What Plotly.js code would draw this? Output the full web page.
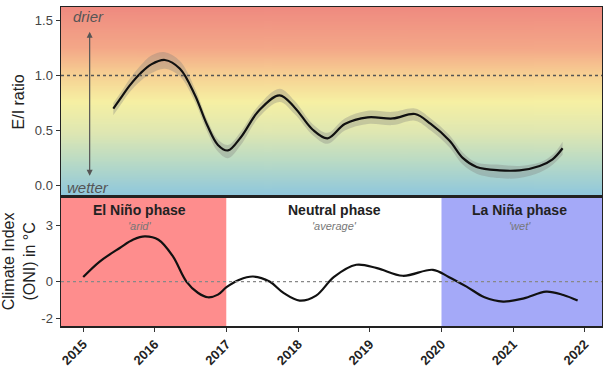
<!DOCTYPE html>
<html>
<head>
<meta charset="utf-8">
<script src="https://cdn.plot.ly/plotly-3.0.1.min.js"></script>
<style>html,body{margin:0;padding:0;background:#fff;}#chart{width:603px;height:367px;}</style>
</head>
<body>
<div id="chart"></div>
<script>
// E/I ratio (top panel)
const eiYears = [2015.42, 2015.55, 2015.65, 2015.8, 2015.95, 2016.14, 2016.35, 2016.56, 2016.73, 2016.88, 2017.02, 2017.2, 2017.45, 2017.74, 2017.95, 2018.2, 2018.41, 2018.65, 2018.97, 2019.32, 2019.63, 2019.85, 2020.11, 2020.3, 2020.49, 2020.81, 2021.09, 2021.37, 2021.55, 2021.69];
const eiValues = [0.70, 0.82, 0.91, 1.02, 1.10, 1.14, 1.06, 0.82, 0.55, 0.37, 0.32, 0.44, 0.68, 0.82, 0.71, 0.51, 0.43, 0.56, 0.62, 0.61, 0.65, 0.56, 0.41, 0.25, 0.17, 0.14, 0.14, 0.18, 0.24, 0.34];
const eiUpper = [0.75, 0.87, 0.97, 1.09, 1.18, 1.21, 1.13, 0.88, 0.60, 0.42, 0.37, 0.49, 0.73, 0.88, 0.77, 0.56, 0.48, 0.61, 0.68, 0.67, 0.70, 0.61, 0.46, 0.30, 0.21, 0.19, 0.18, 0.21, 0.28, 0.40];
const eiLower = [0.64, 0.76, 0.85, 0.95, 1.02, 1.06, 0.99, 0.76, 0.49, 0.31, 0.25, 0.37, 0.62, 0.76, 0.65, 0.46, 0.38, 0.50, 0.56, 0.55, 0.59, 0.50, 0.35, 0.19, 0.11, 0.07, 0.07, 0.12, 0.19, 0.28];

// ONI climate index (bottom panel)
const oniYears = [2015.0, 2015.23, 2015.51, 2015.7, 2015.86, 2016.05, 2016.25, 2016.44, 2016.6, 2016.74, 2016.88, 2017.0, 2017.18, 2017.37, 2017.6, 2017.8, 2018.02, 2018.25, 2018.5, 2018.81, 2019.1, 2019.46, 2019.88, 2020.1, 2020.35, 2020.6, 2020.86, 2021.15, 2021.46, 2021.7, 2021.9];
const oniValues = [0.24, 1.07, 1.80, 2.25, 2.42, 2.24, 1.36, 0.0, -0.6, -0.84, -0.7, -0.3, 0.1, 0.27, 0.0, -0.62, -1.02, -0.75, 0.25, 0.90, 0.72, 0.31, 0.63, 0.25, -0.27, -0.84, -1.07, -0.9, -0.54, -0.72, -1.02];

// Phases
const phaseNames = ["El Niño phase", "Neutral phase", "La Niña phase"];
const phaseSub = ["'arid'", "'average'", "'wet'"];
const phaseStart = [2014.5, 2017.0, 2020.0];
const phaseEnd = [2017.0, 2020.0, 2023.0];
const phaseColors = ["#fe8d8d", "#ffffff", "#a4a9f8"];
const phaseLabelX = [2015.79, 2018.51, 2021.09];

const xTicks = [2015, 2016, 2017, 2018, 2019, 2020, 2021, 2022];
const xRange = [2014.69, 2022.24];

// Gradient background image for top panel
function gradientURI() {
  const c = document.createElement('canvas');
  c.width = 4; c.height = 400;
  const g = c.getContext('2d');
  const gr = g.createLinearGradient(0, 0, 0, 400);
  gr.addColorStop(0.0, '#ef8a80');
  gr.addColorStop(0.22, '#f4a888');
  gr.addColorStop(0.36, '#f7d193');
  gr.addColorStop(0.50, '#f6f0a3');
  gr.addColorStop(0.66, '#dfe7b2');
  gr.addColorStop(0.82, '#b8dac6');
  gr.addColorStop(1.0, '#8dc6de');
  g.fillStyle = gr;
  g.fillRect(0, 0, 4, 400);
  return c.toDataURL('image/png');
}

const font = "Arial, 'Liberation Sans', sans-serif";

const traces = [
  {x: eiYears, y: eiUpper, type: 'scatter', mode: 'lines', line: {width: 0, shape: 'spline'}, xaxis: 'x', yaxis: 'y', hoverinfo: 'skip', showlegend: false},
  {x: eiYears, y: eiLower, type: 'scatter', mode: 'lines', line: {width: 0, shape: 'spline'}, fill: 'tonexty', fillcolor: 'rgba(125,125,125,0.32)', xaxis: 'x', yaxis: 'y', hoverinfo: 'skip', showlegend: false},
  {x: eiYears, y: eiValues, type: 'scatter', mode: 'lines', line: {color: '#111', width: 2.2, shape: 'spline'}, xaxis: 'x', yaxis: 'y', showlegend: false},
  {x: oniYears, y: oniValues, type: 'scatter', mode: 'lines', line: {color: '#111', width: 2.2, shape: 'spline'}, xaxis: 'x2', yaxis: 'y2', showlegend: false}
];

const shapes = [];
for (let i = 0; i < phaseNames.length; i++) {
  shapes.push({type: 'rect', xref: 'x2', yref: 'y2 domain', x0: phaseStart[i], x1: phaseEnd[i], y0: 0, y1: 1, fillcolor: phaseColors[i], line: {width: 0}, layer: 'below'});
}
shapes.push({type: 'line', xref: 'x domain', yref: 'y', x0: 0, x1: 1, y0: 1, y1: 1, line: {color: '#555', width: 1.5, dash: 'dot'}});
shapes.push({type: 'line', xref: 'x2 domain', yref: 'y2', x0: 0, x1: 1, y0: 0, y1: 0, line: {color: '#888', width: 1.2, dash: 'dot'}});

const annotations = [
  {xref: 'x', yref: 'y', axref: 'x', ayref: 'y', x: 2015.09, y: 0.09, ax: 2015.09, ay: 1.41, text: '', showarrow: true, arrowhead: 2, startarrowhead: 2, arrowside: 'end+start', arrowsize: 1, arrowwidth: 1.2, arrowcolor: '#555'},
  {xref: 'x', yref: 'y', x: 2015.07, y: 1.53, text: '<i>drier</i>', showarrow: false, font: {family: font, size: 15, color: '#555'}},
  {xref: 'x', yref: 'y', x: 2015.07, y: -0.02, text: '<i>wetter</i>', showarrow: false, font: {family: font, size: 15, color: '#555'}}
];
for (let i = 0; i < phaseNames.length; i++) {
  annotations.push({xref: 'x2', yref: 'y2', x: phaseLabelX[i], y: 3.85, text: '<b>' + phaseNames[i] + '</b>', showarrow: false, font: {family: font, size: 14, color: '#222'}});
  annotations.push({xref: 'x2', yref: 'y2', x: phaseLabelX[i], y: 2.95, text: '<i>' + phaseSub[i] + '</i>', showarrow: false, font: {family: font, size: 11, color: '#777'}});
}

const axisCommon = {showline: true, mirror: true, linecolor: '#222', linewidth: 1.5, showgrid: false, zeroline: false};

const layout = {
  width: 603, height: 367,
  margin: {l: 61, r: 1, t: 7, b: 41},
  paper_bgcolor: '#fff',
  plot_bgcolor: 'rgba(0,0,0,0)',
  font: {family: font, color: '#333'},
  showlegend: false,
  xaxis: Object.assign({}, axisCommon, {domain: [0, 1], range: xRange, anchor: 'y', showticklabels: false, ticks: '', tickvals: xTicks}),
  yaxis: Object.assign({}, axisCommon, {domain: [0.405, 1], range: [-0.1, 1.62], anchor: 'x', tickvals: [0, 0.5, 1, 1.5], ticktext: ['0.0', '0.5', '1.0', '1.5'], ticks: 'outside', ticklen: 4, tickcolor: '#333', tickfont: {size: 13, color: '#444'}, title: {text: 'E/I ratio', font: {size: 16, color: '#222'}, standoff: 6}}),
  xaxis2: Object.assign({}, axisCommon, {domain: [0, 1], range: xRange, anchor: 'y2', tickvals: xTicks, ticktext: xTicks.map(String), ticks: 'outside', ticklen: 4, tickcolor: '#333', tickangle: -45, tickfont: {size: 13, color: '#222', weight: 'bold'}}),
  yaxis2: Object.assign({}, axisCommon, {domain: [0, 0.405], range: [-2.38, 4.54], anchor: 'x2', tickvals: [-2, 0, 3], ticktext: ['-2', '0', '3'], ticks: 'outside', ticklen: 4, tickcolor: '#333', tickfont: {size: 13, color: '#444'}, title: {text: 'Climate Index<br>(ONI) in °C', font: {size: 16, color: '#222'}, standoff: 4}}),
  shapes: shapes,
  annotations: annotations,
  images: [{source: gradientURI(), xref: 'x domain', yref: 'y domain', x: 0, y: 1, sizex: 1, sizey: 1, sizing: 'stretch', xanchor: 'left', yanchor: 'top', layer: 'below'}]
};

Plotly.newPlot('chart', traces, layout, {displayModeBar: false, staticPlot: true});
</script>
</body>
</html>
